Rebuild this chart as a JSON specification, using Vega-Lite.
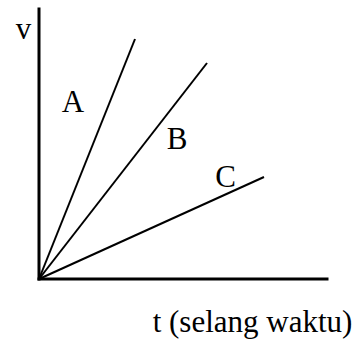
{
  "$schema": "https://vega.github.io/schema/vega-lite/v6.json",
  "width": 359,
  "height": 339,
  "padding": 0,
  "autosize": {"type": "fit", "contains": "padding"},
  "background": "white",
  "config": {"view": {"stroke": null}},
  "datasets": {
    "lines": [
      {"series": "A", "t": 0, "v": 0},
      {"series": "A", "t": 96, "v": 240},
      {"series": "B", "t": 0, "v": 0},
      {"series": "B", "t": 168, "v": 216},
      {"series": "C", "t": 0, "v": 0},
      {"series": "C", "t": 225, "v": 102}
    ],
    "axes": [
      {"series": "xaxis", "t": 0, "v": 0},
      {"series": "xaxis", "t": 288, "v": 0},
      {"series": "yaxis", "t": 0, "v": 0},
      {"series": "yaxis", "t": 0, "v": 270}
    ],
    "labels": [
      {"label": "v", "t": -15.5, "v": 240},
      {"label": "A", "t": 34, "v": 167},
      {"label": "B", "t": 138, "v": 130},
      {"label": "C", "t": 186.5, "v": 92},
      {"label": "t (selang waktu)", "t": 213.5, "v": -53}
    ]
  },
  "layer": [
    {
      "data": {"name": "lines"},
      "mark": {"type": "line", "color": "black", "strokeWidth": 2, "strokeCap": "butt"},
      "encoding": {
        "x": {"field": "t", "type": "quantitative", "scale": {"domain": [-39, 320], "nice": false, "zero": false}, "axis": null},
        "y": {"field": "v", "type": "quantitative", "scale": {"domain": [-60, 279], "nice": false, "zero": false}, "axis": null},
        "detail": {"field": "series"}
      }
    },
    {
      "data": {"name": "axes"},
      "mark": {"type": "line", "color": "black", "strokeWidth": 3, "strokeCap": "square"},
      "encoding": {
        "x": {"field": "t", "type": "quantitative"},
        "y": {"field": "v", "type": "quantitative"},
        "detail": {"field": "series"}
      }
    },
    {
      "data": {"name": "labels"},
      "mark": {"type": "text", "font": "Liberation Serif", "fontSize": 31, "color": "black", "align": "center", "baseline": "alphabetic"},
      "encoding": {
        "x": {"field": "t", "type": "quantitative"},
        "y": {"field": "v", "type": "quantitative"},
        "text": {"field": "label"}
      }
    }
  ]
}
